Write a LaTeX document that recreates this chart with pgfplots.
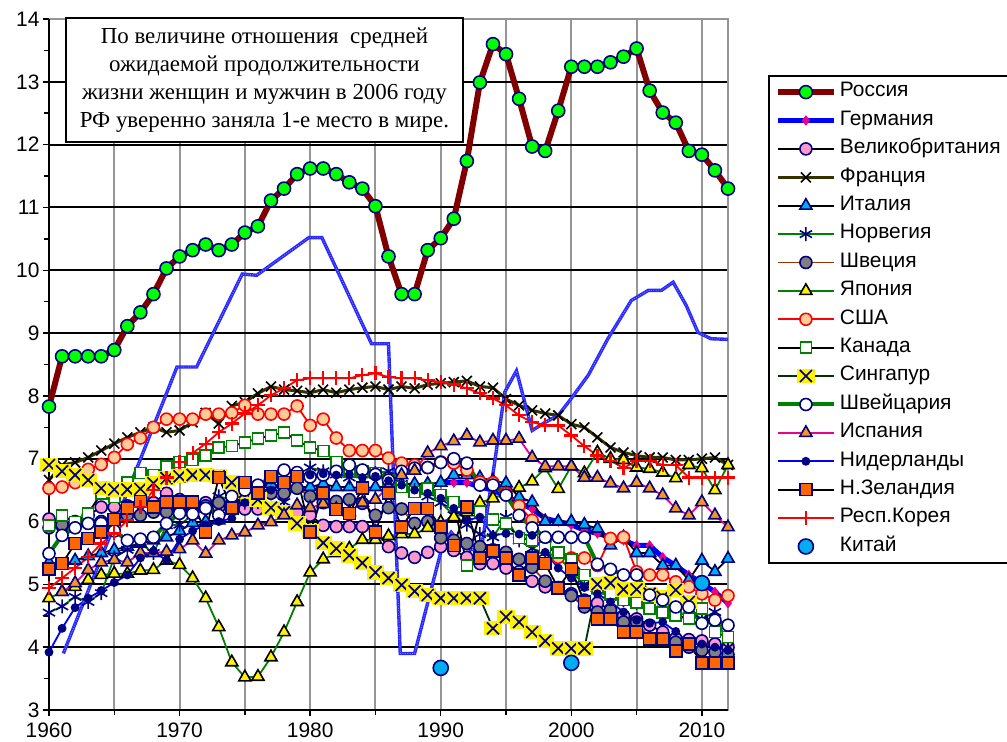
\documentclass[border=0pt]{standalone}
\usepackage{fontspec}
\setmainfont{Liberation Sans}
\newfontfamily\serifcyr{Liberation Serif}
\usepackage{pgfplots}
\pgfplotsset{compat=1.18}
\definecolor{navy}{HTML}{000080}
\definecolor{russ}{HTML}{800000}
\definecolor{limeg}{HTML}{00FF00}
\definecolor{pinkc}{HTML}{FF99CC}
\definecolor{olive3}{HTML}{333300}
\definecolor{grn}{HTML}{008000}
\definecolor{brn}{HTML}{993300}
\definecolor{peach}{HTML}{FFCC99}
\definecolor{dkgrn}{HTML}{003300}
\definecolor{spor}{HTML}{F7941D}
\definecolor{nzor}{HTML}{FF6600}
\definecolor{greyc}{HTML}{808080}
\definecolor{gridg}{HTML}{969696}
\definecolor{blueline}{HTML}{2A2AFF}
\pgfdeclareplotmark{sgx}{%
  \pgfsetfillcolor{yellow}%
  \pgfpathrectangle{\pgfqpoint{-1.15\pgfplotmarksize}{-0.95\pgfplotmarksize}}{\pgfqpoint{2.3\pgfplotmarksize}{1.9\pgfplotmarksize}}%
  \pgfusepath{fill}%
  \pgfsetstrokecolor{navy}%
  \pgfsetlinewidth{1.7bp}%
  \pgfpathmoveto{\pgfqpoint{-0.8\pgfplotmarksize}{-0.8\pgfplotmarksize}}%
  \pgfpathlineto{\pgfqpoint{0.8\pgfplotmarksize}{0.8\pgfplotmarksize}}%
  \pgfpathmoveto{\pgfqpoint{-0.8\pgfplotmarksize}{0.8\pgfplotmarksize}}%
  \pgfpathlineto{\pgfqpoint{0.8\pgfplotmarksize}{-0.8\pgfplotmarksize}}%
  \pgfusepath{stroke}}
\begin{document}
\begin{tikzpicture}
\useasboundingbox (-49bp,-32bp) rectangle (958bp,710bp);
\begin{axis}[
  at={(0,0)}, anchor=south west,
  scale only axis, width=679bp, height=691bp,
  xmin=1960, xmax=2012, ymin=3, ymax=14,
  clip=false,
  xtick={1960,1970,...,2010}, minor xtick={1965,1975,...,2005},
  ytick={3,...,13}, extra y ticks={14}, extra y tick style={grid=none},
  minor ytick={3.5,4.5,...,13.5},
  xtick pos=bottom, ytick pos=left,
  tick align=outside, major tick length=6bp, minor tick length=5bp,
  tick style={black, line width=1.5bp},
  xmajorgrids, xminorgrids, ymajorgrids,
  every axis grid/.style={}, every major grid/.style={}, every minor grid/.style={},
  x grid style={draw=gridg, line width=2bp},
  y grid style={draw=black, line width=2bp},
  axis line style={draw=gridg, line width=2bp},
  tick label style={font=\fontsize{21}{25}\selectfont},
  xticklabel style={yshift=-3bp},
  /pgf/number format/assume math mode=true,
  /pgf/number format/1000 sep={},
  legend style={at={(1,1)}, anchor=north west, xshift=40bp, yshift=-56bp,
    draw=black, line width=1.8bp, fill=white,
    font=\fontsize{21}{24}\selectfont, inner xsep=6bp, inner ysep=2bp,
    row sep=0pt,
    nodes={text height=15bp, text depth=5.4bp, inner xsep=3bp, inner ysep=4bp}},
  legend cell align=left,
  legend image code/.code={\draw[mark repeat=2,mark phase=2] plot coordinates {(0bp,0bp) (28bp,0bp) (56bp,0bp)};},
]
\draw[black, line width=2.2bp] (rel axis cs:0,1) -- (rel axis cs:0,0) -- (rel axis cs:1,0);

% Russia
\addplot[russ, line width=6bp, mark=*, mark size=6.5bp, mark options={fill=limeg, draw=navy, line width=1.6bp}] coordinates {
(1960,7.83)(1961,8.63)(1962,8.63)(1963,8.63)(1964,8.63)(1965,8.73)(1966,9.11)(1967,9.33)(1968,9.62)(1969,10.03)(1970,10.22)(1971,10.32)(1972,10.41)(1973,10.32)(1974,10.41)(1975,10.60)(1976,10.70)(1977,11.11)(1978,11.30)(1979,11.53)(1980,11.62)(1981,11.62)(1982,11.53)(1983,11.40)(1984,11.30)(1985,11.02)(1986,10.22)(1987,9.62)(1988,9.62)(1989,10.32)(1990,10.51)(1991,10.82)(1992,11.74)(1993,12.99)(1994,13.60)(1995,13.44)(1996,12.73)(1997,11.97)(1998,11.90)(1999,12.54)(2000,13.24)(2001,13.24)(2002,13.24)(2003,13.31)(2004,13.40)(2005,13.53)(2006,12.86)(2007,12.51)(2008,12.35)(2009,11.90)(2010,11.84)(2011,11.59)(2012,11.30)};
\addlegendentry{Россия}
% Germany
\addplot[blue, line width=5bp, mark=diamond*, mark size=4.5bp, mark options={fill=magenta, draw=magenta, line width=1bp}] coordinates {
(1990,6.62)(1991,6.62)(1992,6.62)(1993,6.55)(1994,6.50)(1995,6.40)(1996,6.30)(1997,6.20)(1998,6.05)(1999,6.00)(2000,5.95)(2001,5.86)(2002,5.81)(2003,5.75)(2004,5.70)(2005,5.62)(2006,5.62)(2007,5.43)(2008,5.30)(2009,5.15)(2010,5.02)(2011,4.88)(2012,4.70)};
\addlegendentry{Германия}
% UK
\addplot[black, line width=1.8bp, mark=*, mark size=6bp, mark options={fill=pinkc, draw=navy, line width=1.6bp}] coordinates {
(1960,6.04)(1961,5.93)(1962,6.00)(1963,6.10)(1964,6.23)(1965,6.23)(1966,6.25)(1967,6.30)(1968,6.30)(1969,6.45)(1970,6.35)(1971,6.30)(1972,6.30)(1973,6.23)(1974,6.20)(1975,6.20)(1976,6.20)(1977,6.20)(1978,6.15)(1979,6.14)(1980,6.10)(1981,5.94)(1982,5.92)(1983,5.92)(1984,5.92)(1985,5.85)(1986,5.60)(1987,5.50)(1988,5.43)(1989,5.51)(1990,5.60)(1991,5.54)(1992,5.43)(1993,5.33)(1994,5.33)(1995,5.26)(1996,5.20)(1997,5.05)(1998,4.96)(1999,4.94)(2000,4.85)(2001,4.75)(2002,4.70)(2003,4.60)(2004,4.50)(2005,4.45)(2006,4.35)(2007,4.24)(2008,4.14)(2009,4.12)(2010,4.10)(2011,4.05)(2012,4.00)};
\addlegendentry{Великобритания\hspace{14bp}}
% France
\addplot[olive3, line width=3bp, mark=x, mark size=7bp, mark options={draw=black, line width=1.6bp}] coordinates {
(1960,6.66)(1961,6.90)(1962,6.94)(1963,7.02)(1964,7.13)(1965,7.24)(1966,7.34)(1967,7.42)(1968,7.50)(1969,7.42)(1970,7.45)(1971,7.58)(1972,7.73)(1973,7.56)(1974,7.84)(1975,7.90)(1976,8.04)(1977,8.15)(1978,8.10)(1979,8.08)(1980,8.05)(1981,8.10)(1982,8.05)(1983,8.10)(1984,8.13)(1985,8.15)(1986,8.10)(1987,8.15)(1988,8.12)(1989,8.18)(1990,8.20)(1991,8.22)(1992,8.24)(1993,8.15)(1994,8.13)(1995,7.95)(1996,7.85)(1997,7.77)(1998,7.72)(1999,7.69)(2000,7.55)(2001,7.50)(2002,7.34)(2003,7.18)(2004,7.10)(2005,7.05)(2006,7.02)(2007,7.02)(2008,6.98)(2009,6.98)(2010,7.00)(2011,7.02)(2012,6.90)};
\addlegendentry{Франция}
% Italy
\addplot[black, line width=1.8bp, mark=triangle*, mark size=7bp, mark options={fill=cyan, draw=navy, line width=1.6bp}] coordinates {
(1960,5.35)(1961,5.30)(1962,5.38)(1963,5.45)(1964,5.50)(1965,5.55)(1966,5.60)(1967,5.65)(1968,5.70)(1969,5.75)(1970,5.85)(1971,5.98)(1972,6.00)(1973,6.02)(1974,6.20)(1975,6.35)(1976,6.50)(1977,6.60)(1978,6.55)(1979,6.55)(1980,6.55)(1981,6.60)(1982,6.55)(1983,6.55)(1984,6.53)(1985,6.55)(1986,6.55)(1987,6.60)(1988,6.60)(1989,6.60)(1990,6.62)(1991,6.74)(1992,6.74)(1993,6.70)(1994,6.65)(1995,6.61)(1996,6.39)(1997,6.31)(1998,6.00)(1999,6.00)(2000,6.00)(2001,5.95)(2002,5.89)(2003,5.62)(2004,5.75)(2005,5.50)(2006,5.50)(2007,5.30)(2008,5.30)(2009,5.07)(2010,5.38)(2011,5.20)(2012,5.41)};
\addlegendentry{Италия}
% Norway
\addplot[grn, line width=1.8bp, mark=asterisk, mark size=7bp, mark options={draw=navy, line width=1.6bp}] coordinates {
(1960,4.55)(1961,4.65)(1962,4.80)(1963,4.72)(1964,4.86)(1965,5.43)(1966,5.55)(1967,5.65)(1968,5.50)(1969,5.94)(1970,5.95)(1971,6.10)(1972,6.20)(1973,6.40)(1974,6.35)(1975,6.30)(1976,6.31)(1977,6.45)(1978,6.31)(1979,6.60)(1980,6.86)(1981,6.80)(1982,6.75)(1983,6.70)(1984,6.75)(1985,6.77)(1986,6.80)(1987,6.60)(1988,6.50)(1989,6.40)(1990,6.30)(1991,6.10)(1992,5.95)(1993,5.80)(1994,5.75)(1995,6.07)(1996,5.70)(1997,5.57)(1998,5.50)(1999,5.45)(2000,5.20)(2001,5.00)(2002,4.90)(2003,4.80)(2004,4.75)(2005,4.70)(2006,4.65)(2007,4.60)(2008,4.55)(2009,4.50)(2010,4.45)(2011,4.56)(2012,4.00)};
\addlegendentry{Норвегия}
% Sweden
\addplot[brn, line width=1.8bp, mark=*, mark size=6bp, mark options={fill=greyc, draw=navy, line width=1.6bp}] coordinates {
(1960,5.90)(1961,5.95)(1962,5.95)(1963,6.00)(1964,6.00)(1965,6.05)(1966,6.10)(1967,6.10)(1968,6.15)(1969,6.15)(1970,6.20)(1971,6.20)(1972,6.25)(1973,6.30)(1974,6.30)(1975,6.35)(1976,6.40)(1977,6.45)(1978,6.45)(1979,6.53)(1980,6.40)(1981,6.30)(1982,6.32)(1983,6.35)(1984,6.29)(1985,6.10)(1986,6.22)(1987,6.20)(1988,5.97)(1989,6.00)(1990,5.74)(1991,5.70)(1992,5.65)(1993,5.60)(1994,5.55)(1995,5.51)(1996,5.40)(1997,5.27)(1998,5.05)(1999,4.95)(2000,4.82)(2001,4.64)(2002,4.56)(2003,4.59)(2004,4.40)(2005,4.40)(2006,4.14)(2007,4.12)(2008,4.08)(2009,4.00)(2010,3.95)(2011,3.92)(2012,3.88)};
\addlegendentry{Швеция}
% Japan
\addplot[grn, line width=1.8bp, mark=triangle*, mark size=7bp, mark options={fill=yellow, draw=black, line width=1.6bp}] coordinates {
(1960,4.78)(1961,4.88)(1962,4.96)(1963,5.07)(1964,5.15)(1965,5.17)(1966,5.17)(1967,5.22)(1968,5.23)(1969,5.38)(1970,5.31)(1971,5.10)(1972,4.78)(1973,4.32)(1974,3.76)(1975,3.52)(1976,3.53)(1977,3.84)(1978,4.24)(1979,4.72)(1980,5.19)(1981,5.40)(1982,5.50)(1983,5.57)(1984,5.71)(1985,5.71)(1986,5.77)(1987,5.80)(1988,5.80)(1989,5.90)(1990,5.99)(1991,6.07)(1992,6.15)(1993,6.30)(1994,6.37)(1995,6.45)(1996,6.54)(1997,6.64)(1998,6.85)(1999,6.52)(2000,6.88)(2001,6.77)(2002,7.10)(2003,7.00)(2004,6.98)(2005,6.86)(2006,6.84)(2007,6.78)(2008,6.69)(2009,6.90)(2010,6.85)(2011,6.50)(2012,6.90)};
\addlegendentry{Япония}
% USA
\addplot[red, line width=1.8bp, mark=*, mark size=6bp, mark options={fill=peach, draw=red, line width=1.6bp}] coordinates {
(1960,6.53)(1961,6.55)(1962,6.62)(1963,6.83)(1964,6.91)(1965,7.02)(1966,7.23)(1967,7.33)(1968,7.50)(1969,7.63)(1970,7.63)(1971,7.63)(1972,7.71)(1973,7.71)(1974,7.73)(1975,7.85)(1976,7.71)(1977,7.71)(1978,7.71)(1979,7.84)(1980,7.53)(1981,7.63)(1982,7.33)(1983,7.13)(1984,7.13)(1985,7.13)(1986,7.01)(1987,6.93)(1988,6.90)(1989,6.86)(1990,6.95)(1991,6.93)(1992,6.82)(1993,6.63)(1994,6.62)(1995,6.45)(1996,6.25)(1997,6.02)(1998,5.70)(1999,5.43)(2000,5.42)(2001,5.42)(2002,5.30)(2003,5.73)(2004,5.75)(2005,5.20)(2006,5.15)(2007,5.15)(2008,5.04)(2009,4.96)(2010,4.85)(2011,4.75)(2012,4.82)};
\addlegendentry{США}
% Canada
\addplot[black, line width=1.8bp, mark=square*, mark size=5.5bp, mark options={fill=white, draw=grn, line width=1.6bp}] coordinates {
(1960,5.94)(1961,6.10)(1962,5.99)(1963,6.13)(1964,6.45)(1965,6.39)(1966,6.62)(1967,6.77)(1968,6.74)(1969,6.88)(1970,6.95)(1971,6.98)(1972,7.05)(1973,7.18)(1974,7.20)(1975,7.26)(1976,7.32)(1977,7.37)(1978,7.42)(1979,7.29)(1980,7.18)(1981,7.12)(1982,6.95)(1983,6.80)(1984,6.80)(1985,6.77)(1986,6.65)(1987,6.55)(1988,6.47)(1989,6.53)(1990,6.42)(1991,6.31)(1992,5.30)(1993,6.16)(1994,6.03)(1995,5.97)(1996,5.74)(1997,5.70)(1998,5.59)(1999,5.51)(2000,5.40)(2001,5.15)(2002,4.95)(2003,4.85)(2004,4.75)(2005,4.71)(2006,4.62)(2007,4.55)(2008,4.50)(2009,4.46)(2010,4.62)(2011,4.24)(2012,4.16)};
\addlegendentry{Канада}
% Singapore
\addplot[dkgrn, line width=1.8bp, mark=sgx, mark size=7.5bp] coordinates {
(1960,6.90)(1961,6.80)(1962,6.74)(1963,6.66)(1964,6.53)(1965,6.51)(1966,6.51)(1967,6.52)(1968,6.61)(1969,6.69)(1970,6.72)(1971,6.74)(1972,6.74)(1973,6.72)(1974,6.62)(1975,6.47)(1976,6.35)(1977,6.22)(1978,6.15)(1979,5.97)(1980,5.85)(1981,5.66)(1982,5.57)(1983,5.46)(1984,5.34)(1985,5.19)(1986,5.10)(1987,4.99)(1988,4.89)(1989,4.83)(1990,4.78)(1991,4.78)(1992,4.78)(1993,4.78)(1994,4.30)(1995,4.48)(1996,4.40)(1997,4.24)(1998,4.10)(1999,3.98)(2000,3.98)(2001,3.98)(2002,5.00)(2003,5.02)(2004,4.92)(2005,4.92)(2006,4.85)(2007,4.80)(2008,4.91)(2009,4.72)};
\addlegendentry{Сингапур}
% Switzerland
\addplot[grn, line width=4bp, mark=*, mark size=6bp, mark options={fill=white, draw=navy, line width=1.6bp}] coordinates {
(1960,5.49)(1961,5.78)(1962,5.90)(1963,5.97)(1964,5.97)(1965,5.85)(1966,5.70)(1967,5.72)(1968,5.75)(1969,5.97)(1970,6.13)(1971,6.12)(1972,6.21)(1973,6.10)(1974,6.40)(1975,6.50)(1976,6.58)(1977,6.70)(1978,6.82)(1979,6.78)(1980,6.71)(1981,6.74)(1982,6.80)(1983,6.90)(1984,6.82)(1985,6.75)(1986,6.66)(1987,6.80)(1988,6.85)(1989,6.86)(1990,6.94)(1991,7.00)(1992,6.93)(1993,6.58)(1994,6.58)(1995,6.42)(1996,6.10)(1997,5.90)(1998,5.75)(1999,5.75)(2000,5.75)(2001,5.75)(2002,5.32)(2003,5.24)(2004,5.15)(2005,5.15)(2006,4.83)(2007,4.75)(2008,4.64)(2009,4.64)(2010,4.38)(2011,4.43)(2012,4.35)};
\addlegendentry{Швейцария}
% Spain
\addplot[magenta, line width=1.8bp, mark=triangle*, mark size=7bp, mark options={fill=spor, draw=navy, line width=1.6bp}] coordinates {
(1961,4.88)(1962,5.02)(1963,5.23)(1964,5.35)(1965,5.39)(1966,5.35)(1967,5.50)(1968,5.50)(1969,5.52)(1970,5.56)(1971,5.70)(1972,5.49)(1973,5.70)(1974,5.78)(1975,5.83)(1976,5.94)(1977,5.99)(1978,6.10)(1979,6.26)(1980,6.22)(1981,6.28)(1982,6.20)(1983,6.15)(1984,6.30)(1985,6.35)(1986,6.55)(1987,6.74)(1988,6.81)(1989,7.09)(1990,7.20)(1991,7.28)(1992,7.37)(1993,7.26)(1994,7.29)(1995,7.29)(1996,7.32)(1997,7.02)(1998,6.88)(1999,6.88)(2000,6.88)(2001,6.70)(2002,6.70)(2003,6.61)(2004,6.53)(2005,6.62)(2006,6.53)(2007,6.42)(2008,6.21)(2009,6.10)(2010,6.31)(2011,6.10)(2012,5.91)};
\addlegendentry{Испания}
% Netherlands
\addplot[blue, line width=1.8bp, mark=*, mark size=3.5bp, mark options={fill=navy, draw=navy}] coordinates {
(1960,3.92)(1961,4.30)(1962,4.63)(1963,4.78)(1964,4.90)(1965,5.03)(1966,5.15)(1967,5.42)(1968,5.53)(1969,5.38)(1970,5.72)(1971,5.85)(1972,5.95)(1973,6.00)(1974,6.05)(1975,6.30)(1976,6.40)(1977,6.50)(1978,6.60)(1979,6.70)(1980,6.74)(1981,6.76)(1982,6.74)(1983,6.75)(1984,6.70)(1985,6.72)(1986,6.65)(1987,6.58)(1988,6.50)(1989,6.45)(1990,6.37)(1991,6.21)(1992,6.02)(1993,6.07)(1994,5.78)(1995,5.81)(1996,5.80)(1997,5.78)(1998,5.51)(1999,5.26)(2000,5.10)(2001,4.95)(2002,4.85)(2003,4.72)(2004,4.56)(2005,4.43)(2006,4.38)(2007,4.40)(2008,4.25)(2009,4.06)(2010,4.05)(2011,4.00)(2012,3.95)};
\addlegendentry{Нидерланды}
% New Zealand
\addplot[black, line width=1.8bp, mark=square*, mark size=6bp, mark options={fill=nzor, draw=navy, line width=1.6bp}] coordinates {
(1960,5.24)(1961,5.33)(1962,5.65)(1963,5.73)(1964,5.83)(1965,6.03)(1966,6.22)(1967,6.32)(1968,6.23)(1969,6.31)(1970,6.31)(1971,6.31)(1972,5.83)(1973,6.70)(1974,6.22)(1975,6.62)(1976,6.45)(1977,6.72)(1978,6.62)(1979,6.72)(1980,5.83)(1981,6.45)(1982,6.19)(1983,6.13)(1984,6.53)(1985,5.83)(1986,6.45)(1987,5.91)(1988,6.21)(1989,6.21)(1990,5.91)(1991,5.62)(1992,6.23)(1993,5.42)(1994,5.53)(1995,5.42)(1996,5.15)(1997,5.42)(1998,5.33)(1999,4.94)(2000,5.24)(2001,4.72)(2002,4.45)(2003,4.45)(2004,4.24)(2005,4.24)(2006,4.13)(2007,4.13)(2008,3.94)(2009,4.05)(2010,3.75)(2011,3.75)(2012,3.75)};
\addlegendentry{Н.Зеландия}
% Korea
\addplot[red, line width=1.8bp, mark=+, mark size=7bp, mark options={draw=red, line width=2.2bp}] coordinates {
(1960,4.94)(1961,5.10)(1962,5.26)(1963,5.43)(1964,5.65)(1965,5.81)(1966,6.02)(1967,6.23)(1968,6.50)(1969,6.70)(1970,6.95)(1971,7.09)(1972,7.24)(1973,7.42)(1974,7.56)(1975,7.72)(1976,7.85)(1977,8.01)(1978,8.12)(1979,8.25)(1980,8.28)(1981,8.28)(1982,8.28)(1983,8.28)(1984,8.33)(1985,8.36)(1986,8.30)(1987,8.28)(1988,8.28)(1989,8.25)(1990,8.22)(1991,8.18)(1992,8.12)(1993,8.04)(1994,7.96)(1995,7.85)(1996,7.69)(1997,7.58)(1998,7.53)(1999,7.53)(2000,7.37)(2001,7.20)(2002,7.05)(2003,6.97)(2004,6.85)(2005,6.97)(2006,6.97)(2007,6.90)(2008,6.90)(2009,6.70)(2010,6.70)(2011,6.70)(2012,6.70)};
\addlegendentry{Респ.Корея}
% unlabeled blue line
\addplot[blueline, line width=3.4bp, forget plot] coordinates {
(1961.1,3.90)(1969.8,8.46)(1971.3,8.46)(1974.8,9.94)(1975.9,9.92)(1979.9,10.52)(1980.9,10.52)(1984.7,8.83)(1986.0,8.83)(1986.9,3.90)(1988.0,3.90)(1990.2,5.67)(1990.8,5.83)(1991.8,5.58)(1992.8,5.54)(1993.1,5.55)(1994.1,6.90)(1994.9,8.06)(1995.8,8.40)(1997.0,7.45)(1998.0,7.58)(1999.0,7.69)(2000.0,7.96)(2001.3,8.33)(2002.8,8.91)(2004.6,9.52)(2005.9,9.68)(2006.9,9.68)(2007.8,9.81)(2008.8,9.44)(2009.7,9.01)(2010.7,8.91)(2012,8.90)};
\addplot[white, line width=0.7bp, dash pattern=on 0.8bp off 1.6bp, opacity=0.5, forget plot] coordinates {
(1961.1,3.90)(1969.8,8.46)(1971.3,8.46)(1974.8,9.94)(1975.9,9.92)(1979.9,10.52)(1980.9,10.52)(1984.7,8.83)(1986.0,8.83)(1986.9,3.90)(1988.0,3.90)(1990.2,5.67)(1990.8,5.83)(1991.8,5.58)(1992.8,5.54)(1993.1,5.55)(1994.1,6.90)(1994.9,8.06)(1995.8,8.40)(1997.0,7.45)(1998.0,7.58)(1999.0,7.69)(2000.0,7.96)(2001.3,8.33)(2002.8,8.91)(2004.6,9.52)(2005.9,9.68)(2006.9,9.68)(2007.8,9.81)(2008.8,9.44)(2009.7,9.01)(2010.7,8.91)(2012,8.90)};
% China
\addplot[only marks, mark=*, mark size=7.5bp, mark options={fill=cyan, draw=navy, line width=1.6bp}] coordinates {
(1990,3.67)(2000,3.75)(2010,5.02)};
\addlegendentry{Китай}

\node[draw=black, line width=1.8bp, fill=white, align=center, minimum width=397bp, minimum height=124bp, inner sep=0pt, font=\serifcyr\fontsize{23}{28}\selectfont] at (axis cs:1976.5,13.03) {По величине отношения\ \ средней\\ожидаемой продолжительности\\жизни женщин и мужчин в 2006 году\\РФ уверенно заняла 1-е место в мире.};
\end{axis}
\end{tikzpicture}
\end{document}
